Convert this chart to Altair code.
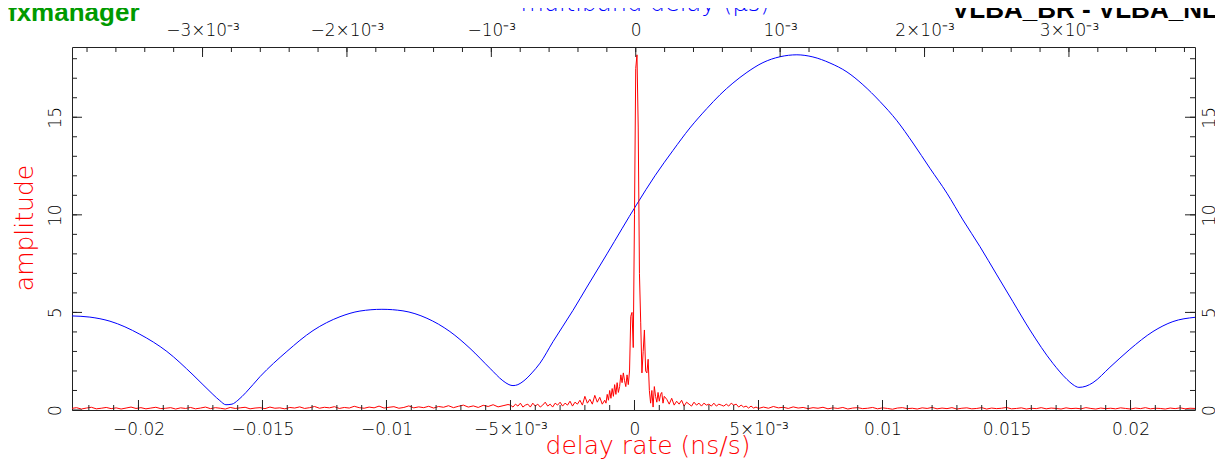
import altair as alt
import pandas as pd

# ------------------------------------------------------------------ data
RATE_DOMAIN = [-0.02268, 0.0226]      # delay rate (ns/s), bottom axis
MBD_DOMAIN = [-0.003904, 0.003873]    # multiband delay (us), top axis
AMP_DOMAIN = [0, 18.6]                # amplitude

# multiband delay amplitude (blue)
mbd_us = [-0.003904, -0.003780, -0.003641, -0.003434, -0.003247, -0.003066,
          -0.002928, -0.002880, -0.002838, -0.002796, -0.002755, -0.002699,
          -0.002602, -0.002416, -0.002235, -0.002048, -0.001910, -0.001758,
          -0.001612, -0.001446, -0.001287, -0.001148, -0.001010, -0.000920,
          -0.000878, -0.000850, -0.000816, -0.000774, -0.000719, -0.000663,
          -0.000573, -0.000435, -0.000338, -0.000199, 0.000008, 0.000133,
          0.000258, 0.000375, 0.000493, 0.000583, 0.000673, 0.000770,
          0.000881, 0.000999, 0.001116,
          0.001227, 0.001345, 0.001463, 0.001573, 0.001691, 0.001809,
          0.001920, 0.002037, 0.002155, 0.002266, 0.002384, 0.002501,
          0.002612, 0.002730, 0.002889, 0.002986, 0.003028, 0.003069,
          0.003118, 0.003166, 0.003284, 0.003422, 0.003582, 0.003720,
          0.003873]
mbd_amp = [4.82, 4.76, 4.55, 3.88, 3.00, 1.80,
           0.80, 0.48, 0.27, 0.30, 0.50, 0.90,
           1.71, 3.00, 4.07, 4.78, 5.07, 5.16,
           5.08, 4.70, 4.02, 3.16, 2.14, 1.50,
           1.30, 1.25, 1.30, 1.50, 1.90, 2.40,
           3.50, 5.10, 6.30, 8.00, 10.55, 12.00,
           13.30, 14.45, 15.45, 16.15, 16.75, 17.30,
           17.80, 18.10, 18.20,
           18.09, 17.78, 17.32, 16.67, 15.81, 14.82,
           13.68, 12.39, 11.11, 9.74, 8.37, 6.92,
           5.55, 4.10, 2.39, 1.57, 1.30, 1.16,
           1.22, 1.40, 2.19, 3.11, 4.02, 4.53,
           4.75]

# delay rate amplitude (red), read in segments: first rate, sample step, amplitudes
rate_seg_start = [-0.0227, -0.0050, -0.0012, 0.0013, 0.0052]
rate_seg_step = [0.0002, 0.0001, 0.00005, 0.0001, 0.0002]
rate_seg_amp = [
    [0.08, 0.12, 0.05, 0.10, 0.14, 0.06, 0.09, 0.13, 0.07, 0.11,
     0.05, 0.10, 0.15, 0.08, 0.12, 0.06, 0.10, 0.14, 0.07, 0.09,
     0.12, 0.05, 0.11, 0.08, 0.13, 0.06, 0.10, 0.15, 0.07, 0.12,
     0.09, 0.05, 0.13, 0.08, 0.11, 0.14, 0.06, 0.10, 0.12, 0.07,
     0.15, 0.09, 0.11, 0.06,
     0.13, 0.10, 0.16, 0.08, 0.12, 0.18, 0.09, 0.14, 0.11, 0.17,
     0.08, 0.13, 0.10, 0.19, 0.12, 0.09, 0.15, 0.11, 0.20, 0.10,
     0.14, 0.17, 0.09, 0.13, 0.21, 0.11, 0.16, 0.12, 0.19, 0.10,
     0.18, 0.14, 0.22, 0.12, 0.19, 0.25, 0.15, 0.21, 0.13, 0.24,
     0.18, 0.27, 0.16, 0.22, 0.28],
    [0.25, 0.15, 0.30, 0.20, 0.35, 0.15, 0.25, 0.30, 0.15, 0.35,
     0.20, 0.30, 0.15, 0.25, 0.40, 0.20, 0.30, 0.15, 0.35, 0.25,
     0.40, 0.20, 0.35, 0.25, 0.45, 0.20, 0.40, 0.30, 0.50, 0.25,
     0.70, 0.35, 0.55, 0.30, 0.75, 0.40, 0.65, 0.30],
    [0.50, 0.35, 0.80, 0.50, 1.00, 0.60, 1.10, 0.70, 1.30, 0.80,
     1.40, 0.90, 1.20, 1.80, 1.40, 1.90, 1.50, 1.20, 1.80, 1.30,
     2.00, 4.80, 5.00, 3.20, 10.0, 17.5, 18.2, 14.5, 7.00, 4.50,
     1.90, 3.00, 4.10, 2.00, 1.90, 2.60, 1.00, 0.35, 1.00, 0.15,
     1.20, 0.70, 0.40, 0.90, 0.45, 0.80, 0.90, 0.35, 0.70],
    [0.55, 0.30, 0.60, 0.25, 0.45, 0.30, 0.50, 0.20, 0.40, 0.30,
     0.20, 0.40, 0.25, 0.35, 0.20, 0.35, 0.25, 0.30, 0.20, 0.35,
     0.20, 0.30, 0.25, 0.20, 0.30, 0.20, 0.35, 0.25, 0.30, 0.15,
     0.25, 0.15, 0.20, 0.10, 0.20, 0.10, 0.15, 0.08],
    [0.15, 0.09, 0.18, 0.11, 0.14, 0.08, 0.16, 0.10, 0.13, 0.07,
     0.12, 0.09, 0.14, 0.06, 0.11, 0.08, 0.13, 0.05, 0.10, 0.12,
     0.07, 0.09, 0.13, 0.06, 0.11, 0.08, 0.04, 0.10, 0.12, 0.07,
     0.09, 0.05, 0.11, 0.08, 0.13, 0.06, 0.10, 0.07, 0.12, 0.05,
     0.09, 0.11, 0.06, 0.08, 0.12, 0.05, 0.10, 0.07, 0.09, 0.13,
     0.06, 0.08, 0.11, 0.05, 0.09, 0.07, 0.12, 0.06, 0.10, 0.08,
     0.05, 0.11, 0.07, 0.09, 0.06, 0.12, 0.08, 0.05, 0.10, 0.07,
     0.09, 0.06, 0.11, 0.08, 0.05, 0.10, 0.07, 0.12, 0.06, 0.09,
     0.08, 0.05, 0.10, 0.07, 0.11, 0.06, 0.09, 0.08],
]

# tick values and labels
rate_major = [-0.02, -0.015, -0.01, -0.005, 0, 0.005, 0.01, 0.015, 0.02]
rate_labels = ["−0.02", "−0.015", "−0.01", "−5×10⁻³", "0", "5×10⁻³", "0.01", "0.015", "0.02"]
rate_minor = [round(-0.022 + 0.001 * i, 4) for i in range(45)]
mbd_major = [-0.003, -0.002, -0.001, 0, 0.001, 0.002, 0.003]
mbd_labels = ["−3×10⁻³", "−2×10⁻³", "−10⁻³", "0", "10⁻³", "2×10⁻³", "3×10⁻³"]
mbd_minor = [round(-0.0038 + 0.0002 * i, 5) for i in range(39)]
amp_major = [0, 5, 10, 15]
amp_minor = list(range(1, 19))

# ------------------------------------------------------------------ build
rows = []
for s, st, amps in zip(rate_seg_start, rate_seg_step, rate_seg_amp):
    for i, a in enumerate(amps):
        rows.append({"rate": round(s + i * st, 6), "amp": a})
red_df = pd.DataFrame(rows)
blue_df = pd.DataFrame({"mbd": mbd_us, "amp": mbd_amp})

W, H = 1123, 363
FONT = "DejaVu Sans"
TICK = "#222222"


def label_expr(vals, labs):
    parts = [f"abs(datum.value - ({v})) < 1e-9 ? '{l}'" for v, l in zip(vals, labs)]
    return " : ".join(parts) + " : ''"


common_axis = dict(title=None, domain=False, ticks=False, tickSize=0, grid=False,
                   labelFont=FONT, labelFontSize=17, labelColor="black",
                   labelFontWeight=200, labelFlush=False, labelOverlap=False)

rate_scale = alt.Scale(domain=RATE_DOMAIN, nice=False, zero=False)
mbd_scale = alt.Scale(domain=MBD_DOMAIN, nice=False, zero=False)
amp_scale = alt.Scale(domain=AMP_DOMAIN, nice=False, zero=False)

red = alt.Chart(red_df).mark_line(color="#ff0000", strokeWidth=1, clip=True).encode(
    x=alt.X("rate:Q", scale=rate_scale,
            axis=alt.Axis(orient="bottom", values=rate_major,
                          labelExpr=label_expr(rate_major, rate_labels),
                          labelPadding=11, **common_axis)),
    y=alt.Y("amp:Q", scale=amp_scale,
            axis=alt.Axis(orient="left", values=amp_major, labelAngle=270,
                          labelAlign="center", labelBaseline="alphabetic",
                          labelPadding=12, **common_axis)),
)

blue = alt.Chart(blue_df).mark_line(color="#0000ff", strokeWidth=1, clip=True,
                                    interpolate="monotone").encode(
    x=alt.X("mbd:Q", scale=mbd_scale,
            axis=alt.Axis(orient="top", values=mbd_major,
                          labelExpr=label_expr(mbd_major, mbd_labels),
                          labelPadding=8, **common_axis)),
    y=alt.Y("amp:Q", scale=amp_scale,
            axis=alt.Axis(orient="right", values=amp_major, labelAngle=270,
                          labelAlign="center", labelBaseline="top",
                          labelPadding=6, **common_axis)),
)


def xticks(vals, scale, y0, y1):
    return alt.Chart(pd.DataFrame({"v": vals})).mark_rule(color=TICK, strokeWidth=1).encode(
        x=alt.X("v:Q", scale=scale, axis=None), y=alt.value(y0), y2=alt.value(y1))


def yticks(vals, x0, x1):
    return alt.Chart(pd.DataFrame({"v": vals})).mark_rule(color=TICK, strokeWidth=1).encode(
        y=alt.Y("v:Q", scale=amp_scale, axis=None), x=alt.value(x0), x2=alt.value(x1))


ticks = [
    xticks(rate_major, rate_scale, H, H - 10),
    xticks(rate_minor, rate_scale, H, H - 5),
    xticks(mbd_major, mbd_scale, 0, 10),
    xticks(mbd_minor, mbd_scale, 0, 5),
    yticks(amp_major, 0, 10),
    yticks(amp_minor, 0, 5),
    yticks(amp_major, W, W - 10),
    yticks(amp_minor, W, W - 5),
]

one = alt.Data(values=[{}])


def label(text, x, y, **kw):
    return alt.Chart(one).mark_text(text=text, **kw).encode(x=alt.value(x), y=alt.value(y))


titles = [
    label("fxmanager", -64, -26, align="left", baseline="alphabetic",
          font="Liberation Sans", fontWeight="bold", fontSize=26, color="#009a00"),
    label("VLBA_BR - VLBA_NL", 880, -29, align="left", baseline="alphabetic",
          font="Liberation Sans", fontWeight="bold", fontSize=26, color="black"),
    label("multiband delay (µs)", 573, -36, align="center", baseline="alphabetic",
          font=FONT, fontWeight=200, fontSize=24, color="#0000ff"),
    label("delay rate (ns/s)", 576, 407, align="center", baseline="alphabetic",
          font=FONT, fontWeight=200, fontSize=25, color="#ff0000"),
    label("amplitude", -39, 181, align="center", baseline="alphabetic", angle=270,
          font=FONT, fontWeight=200, fontSize=25, color="#ff0000"),
]

chart = alt.layer(blue, red, *ticks, *titles).resolve_scale(
    x="independent").resolve_axis(y="independent").properties(
    width=W, height=H,
    padding={"left": 64, "top": 39, "right": 20, "bottom": 50},
    autosize=alt.AutoSizeParams(type="none"),
).configure_view(stroke="#222222", strokeWidth=1)

chart.save("out.html", embed_options={"renderer": "svg", "actions": False})
